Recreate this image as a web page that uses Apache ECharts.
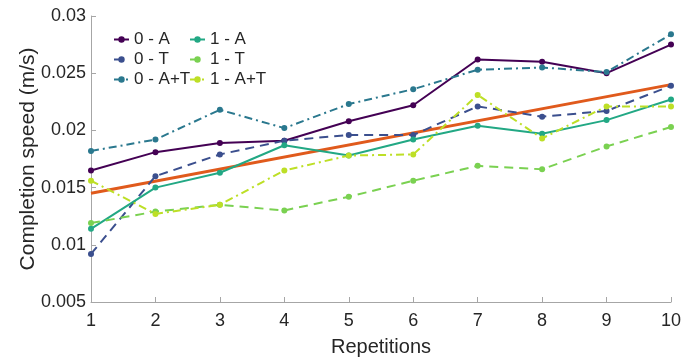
<!DOCTYPE html>
<html>
<head>
<meta charset="utf-8">
<script src="https://cdn.jsdelivr.net/npm/echarts@6/dist/echarts.min.js"></script>
<style>
  html, body { margin: 0; padding: 0; background: #fff; }
  #chart { width: 692px; height: 362px; }
</style>
</head>
<body>
<div id="chart"></div>
<script>
// repetitions 1..10
var reps = [1, 2, 3, 4, 5, 6, 7, 8, 9, 10];

var a0  = [0.0165, 0.0181, 0.0189, 0.0191, 0.0208, 0.0222, 0.0262, 0.0260, 0.0250, 0.0275];
var t0  = [0.0092, 0.0160, 0.0179, 0.0191, 0.0196, 0.0196, 0.0221, 0.0212, 0.0217, 0.0239];
var at0 = [0.0182, 0.0192, 0.0218, 0.0202, 0.0223, 0.0236, 0.0253, 0.0255, 0.0251, 0.0284];
var a1  = [0.0114, 0.0150, 0.0163, 0.0187, 0.0178, 0.0192, 0.0204, 0.0197, 0.0209, 0.0227];
var t1  = [0.0119, 0.0129, 0.0135, 0.0130, 0.0142, 0.0156, 0.0169, 0.0166, 0.0186, 0.0203];
var at1 = [0.0156, 0.0127, 0.0135, 0.0165, 0.0178, 0.0179, 0.0231, 0.0193, 0.0221, 0.0221];

// fitted trend line, endpoints at rep 1 and rep 10
var trendX = [1, 10];
var trendY = [0.0145, 0.0240];

var yTicks = [0.005, 0.01, 0.015, 0.02, 0.025, 0.03];

function pairs(xs, ys) {
    return xs.map(function (x, i) { return [x, ys[i]]; });
}

function lineSeries(name, data, color, dash) {
    return {
        name: name,
        type: 'line',
        data: pairs(reps, data),
        symbol: 'circle',
        symbolSize: 6,
        itemStyle: { color: color },
        lineStyle: { color: color, width: 2, type: dash },
        emphasis: { disabled: true },
        z: 3
    };
}

var font = 'Liberation Sans, Arial, sans-serif';
var legendText = { fontSize: 17, color: '#262626', fontFamily: font };

var chart = echarts.init(document.getElementById('chart'));
chart.setOption({
    animation: false,
    backgroundColor: '#fff',
    grid: { left: 91, right: 21, top: 16, bottom: 53 },
    legend: [{
        orient: 'vertical',
        left: 108, top: 26,
        itemWidth: 15, itemHeight: 8, itemGap: 3,
        textStyle: legendText,
        data: ['0 - A', '0 - T', '0 - A+T']
    }, {
        orient: 'vertical',
        left: 184, top: 26,
        itemWidth: 15, itemHeight: 8, itemGap: 3,
        textStyle: legendText,
        data: ['1 - A', '1 - T', '1 - A+T']
    }],
    xAxis: {
        type: 'value',
        min: 1, max: 10, interval: 1,
        name: 'Repetitions',
        nameLocation: 'middle',
        nameGap: 35,
        nameMoveOverlap: false,
        nameTextStyle: { fontSize: 20, color: '#262626', fontFamily: font },
        axisLine: { lineStyle: { color: '#a6a6a6', width: 1 } },
        axisTick: { inside: true, length: 5, lineStyle: { color: '#a6a6a6' } },
        axisLabel: { fontSize: 18, color: '#262626', margin: 10, fontFamily: font },
        splitLine: { show: false }
    },
    yAxis: {
        type: 'value',
        min: 0.005, max: 0.03, interval: 0.005,
        name: 'Completion speed (m/s)',
        nameLocation: 'middle',
        nameGap: 52,
        nameMoveOverlap: false,
        nameTextStyle: { fontSize: 21, color: '#262626', fontFamily: font },
        axisLine: { show: true, lineStyle: { color: '#a6a6a6', width: 1 } },
        axisTick: { show: true, inside: true, length: 5, lineStyle: { color: '#a6a6a6' } },
        axisLabel: {
            fontSize: 18, color: '#262626', margin: 5,
            fontFamily: font,
            formatter: function (v) {
                var near = yTicks.filter(function (t) { return Math.abs(t - v) < 1e-9; });
                return near.length ? String(near[0]) : '';
            }
        },
        splitLine: { show: false }
    },
    series: [
        lineSeries('0 - A', a0, '#440154', 'solid'),
        lineSeries('0 - T', t0, '#3b4f8e', [9, 6]),
        lineSeries('0 - A+T', at0, '#2a788e', [8, 4, 2, 4]),
        lineSeries('1 - A', a1, '#22a884', 'solid'),
        lineSeries('1 - T', t1, '#7ad151', [9, 6]),
        lineSeries('1 - A+T', at1, '#bddf26', [8, 4, 2, 4]),
        {
            name: 'trend',
            type: 'line',
            data: pairs(trendX, trendY),
            symbol: 'none',
            lineStyle: { color: '#e05a1c', width: 3 },
            emphasis: { disabled: true },
            z: 2
        }
    ]
});
</script>
</body>
</html>
